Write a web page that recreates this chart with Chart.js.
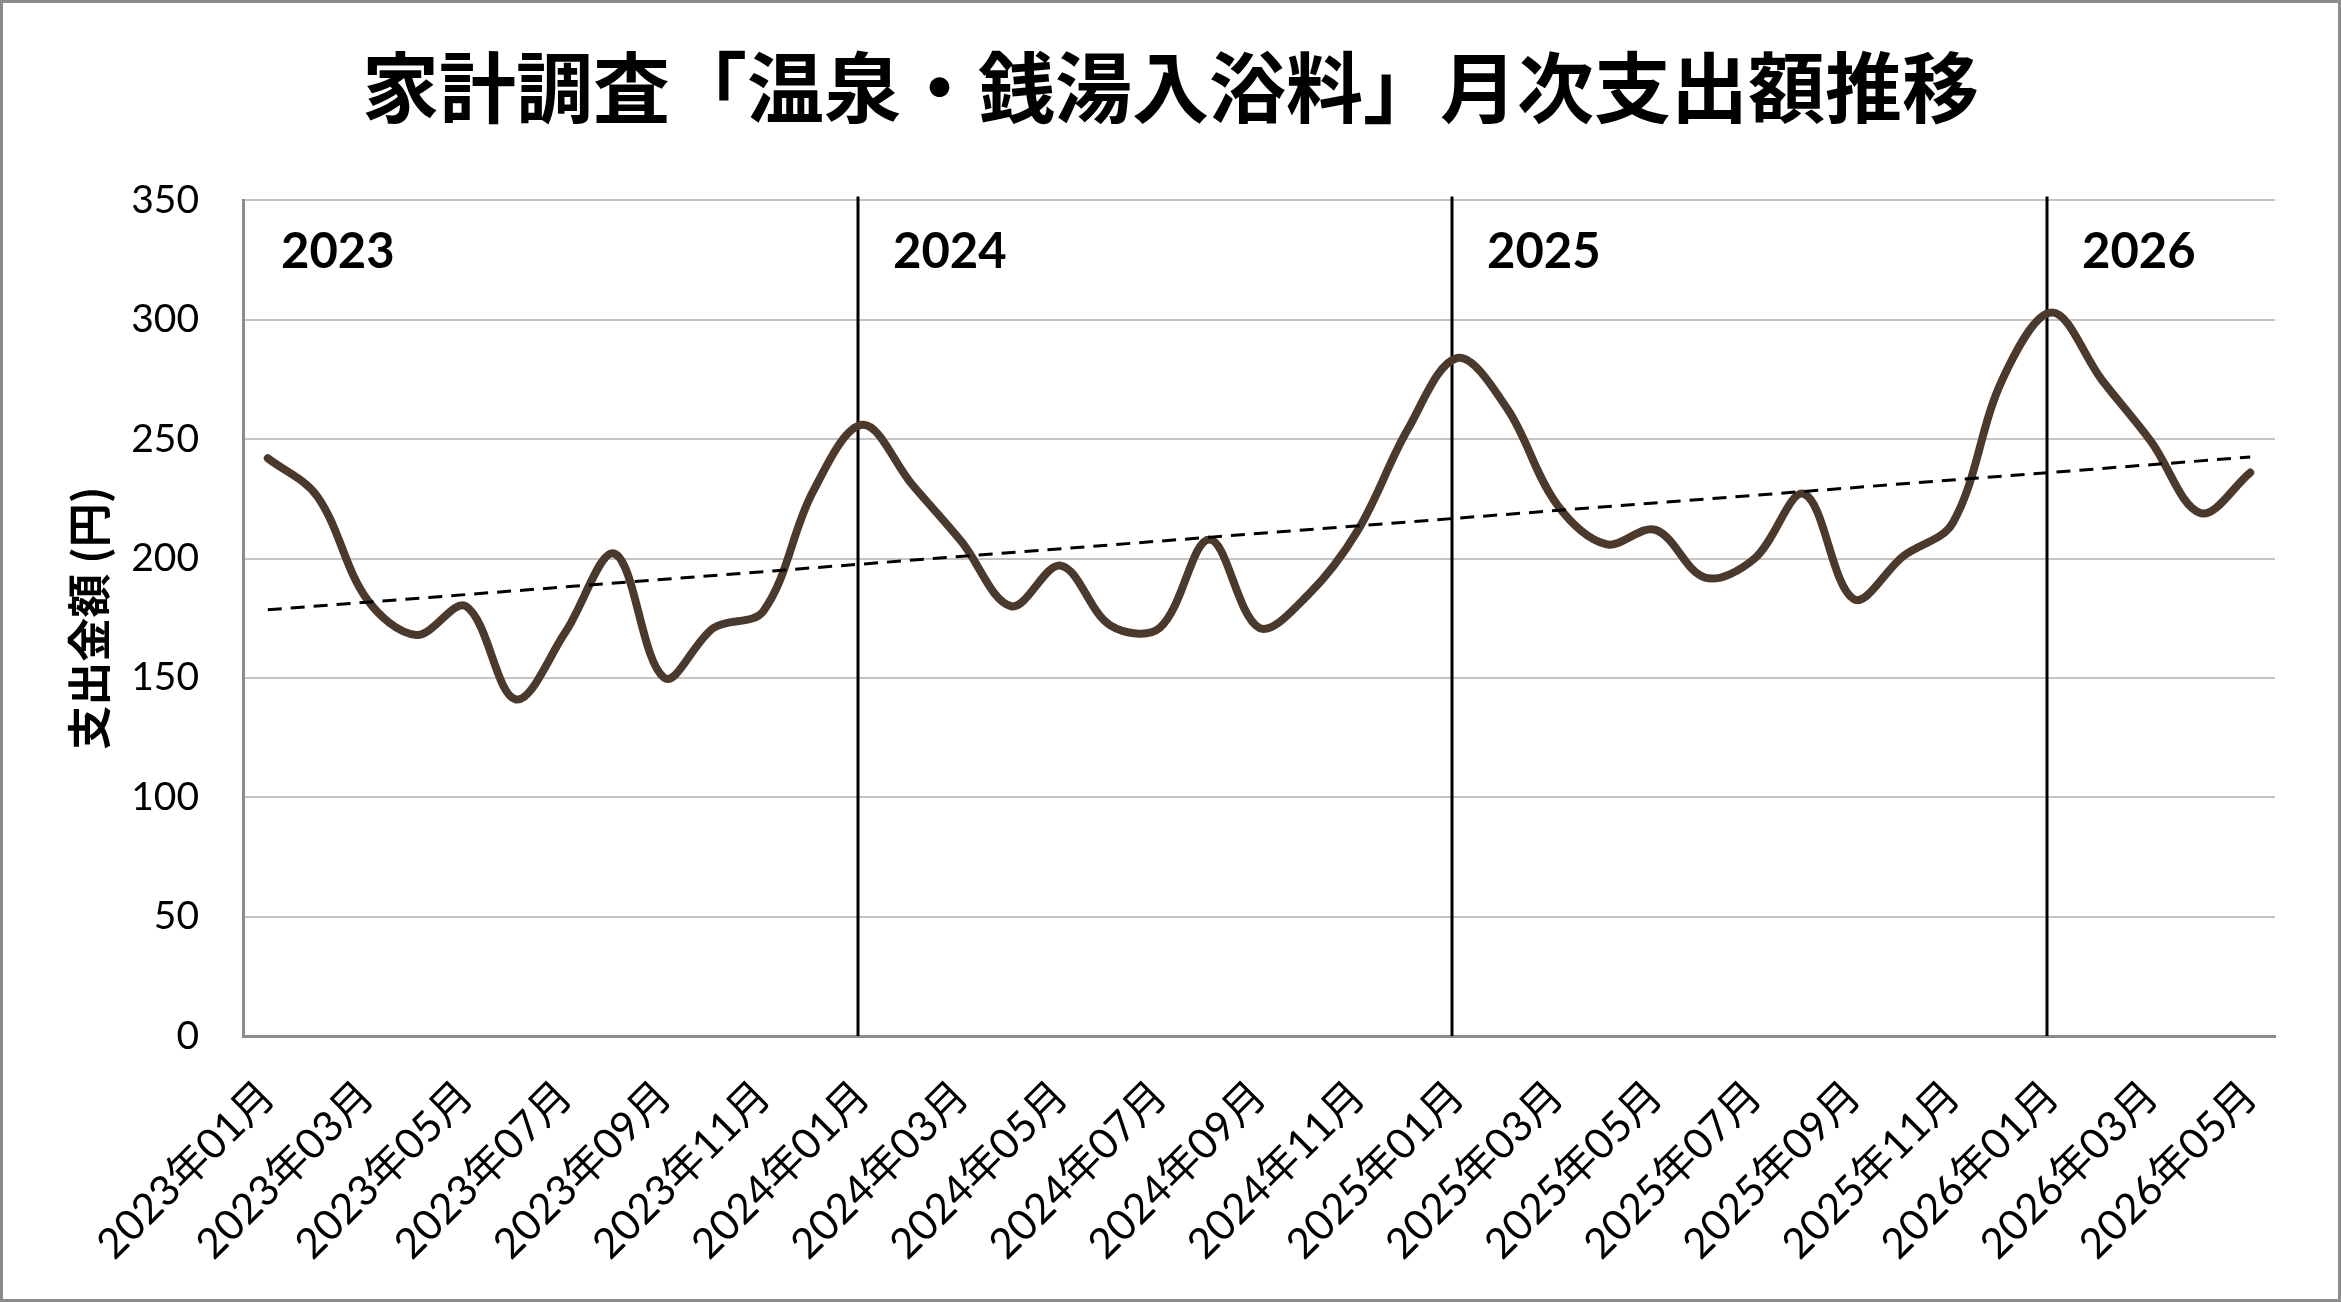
<!DOCTYPE html>
<html lang="ja">
<head>
<meta charset="UTF-8">
<title>家計調査「温泉・銭湯入浴料」月次支出額推移</title>
<script src="https://cdn.jsdelivr.net/npm/chart.js@4.4.1/dist/chart.umd.min.js"></script>
<style>
    html, body { margin: 0; padding: 0; background: #fff; }
    #chart-wrap { width: 2341px; height: 1302px; }
</style>
</head>
<body>
<div id="chart-wrap"><canvas id="bath-chart" width="2341" height="1302"></canvas></div>
<script>
// Monthly categories (2023/01 - 2026/05)
const months = [
    '2023年01月', '2023年02月', '2023年03月', '2023年04月', '2023年05月', '2023年06月',
    '2023年07月', '2023年08月', '2023年09月', '2023年10月', '2023年11月', '2023年12月',
    '2024年01月', '2024年02月', '2024年03月', '2024年04月', '2024年05月', '2024年06月',
    '2024年07月', '2024年08月', '2024年09月', '2024年10月', '2024年11月', '2024年12月',
    '2025年01月', '2025年02月', '2025年03月', '2025年04月', '2025年05月', '2025年06月',
    '2025年07月', '2025年08月', '2025年09月', '2025年10月', '2025年11月', '2025年12月',
    '2026年01月', '2026年02月', '2026年03月', '2026年04月', '2026年05月'
];

// Spending per month (yen)
const spending = [
    242, 226, 183, 168, 180, 141, 169, 202, 150, 171, 178, 228,
    256, 231, 207, 180, 197, 172, 171, 208, 171, 185, 212, 254,
    284, 263, 223, 206, 212, 192, 200, 227, 183, 201, 215, 275,
    303, 275, 249, 219, 236
];

// Linear trend line: value at first and last month
const trendEnds = [178.5, 242.5];

// Y axis range and step
const yRange = [0, 350];
const yStep = 50;

const LINE_COLOR = '#4b3a2b';
const TICK_FONT = 'Lato, "Noto Sans CJK JP", sans-serif';
const CJK_FONT = '"Noto Sans CJK JP", sans-serif';

/**
 * Trend series: only the two ends, joined straight across the gaps
 */
function buildTrend() {
    const last = months.length - 1;
    return months.map((m, i) => (i === 0 ? trendEnds[0] : (i === last ? trendEnds[1] : null)));
}

/**
 * Indices where a new year starts (first month of data counts too)
 */
function yearStarts() {
    return months
        .map((m, i) => ({ index: i, year: m.slice(0, 4), month: m.slice(5, 7) }))
        .filter(item => item.index === 0 || item.month === '01');
}

// White page and grey outer frame
const framePlugin = {
    id: 'frame',
    beforeDraw(chart) {
        const ctx = chart.ctx;
        ctx.save();
        ctx.fillStyle = '#ffffff';
        ctx.fillRect(0, 0, chart.width, chart.height);
        ctx.restore();
    },
    afterDraw(chart) {
        const ctx = chart.ctx;
        ctx.save();
        ctx.strokeStyle = '#8c8c8c';
        ctx.lineWidth = 3;
        ctx.strokeRect(1.5, 1.5, chart.width - 3, chart.height - 3);
        ctx.restore();
    }
};

// Year separators and year captions
const yearPlugin = {
    id: 'years',
    beforeDatasetsDraw(chart) {
        const { ctx, chartArea, scales } = chart;
        ctx.save();
        ctx.strokeStyle = '#000000';
        ctx.lineWidth = 3;
        ctx.fillStyle = '#000000';
        ctx.font = 'bold 49px Lato, sans-serif';
        ctx.textAlign = 'left';
        ctx.textBaseline = 'alphabetic';
        yearStarts().forEach(item => {
            let textX;
            if (item.index === 0) {
                textX = chartArea.left + 38;
            } else {
                const x = Math.round(scales.x.getPixelForValue(item.index)) - 5;
                ctx.beginPath();
                ctx.moveTo(x, chartArea.top - 4);
                ctx.lineTo(x, chartArea.bottom);
                ctx.stroke();
                textX = x + 35;
            }
            ctx.fillText(item.year, textX, chartArea.top + 68);
        });
        ctx.restore();
    }
};

const chart = new Chart(document.getElementById('bath-chart'), {
    type: 'line',
    data: {
        labels: months,
        datasets: [{
            label: '支出金額',
            data: spending,
            borderColor: LINE_COLOR,
            borderWidth: 8,
            borderCapStyle: 'round',
            borderJoinStyle: 'round',
            tension: 0.35,
            pointRadius: 0,
            fill: false,
            order: 1
        }, {
            label: '線形 (支出金額)',
            data: buildTrend(),
            borderColor: '#000000',
            borderWidth: 3,
            borderDash: [14, 9],
            spanGaps: true,
            tension: 0,
            pointRadius: 0,
            fill: false,
            order: 0
        }]
    },
    options: {
        responsive: false,
        animation: false,
        devicePixelRatio: 1,
        layout: {
            padding: { top: 0, left: 66, right: 66, bottom: 0 }
        },
        scales: {
            x: {
                offset: true,
                grid: { display: false },
                border: { display: true, color: '#8c8c8c', width: 3 },
                ticks: {
                    autoSkip: false,
                    minRotation: 45,
                    maxRotation: 45,
                    padding: 36,
                    color: '#000000',
                    font: { family: TICK_FONT, size: 42, lineHeight: 0.6 },
                    callback: function(value, index) {
                        return index % 2 === 0 ? this.getLabelForValue(value) : '';
                    }
                },
                afterFit: function(scale) {
                    scale.height = 266;
                }
            },
            y: {
                min: yRange[0],
                max: yRange[1],
                grid: { color: '#c4c4c4', lineWidth: 2, drawTicks: false },
                border: { display: true, color: '#8c8c8c', width: 3 },
                ticks: {
                    stepSize: yStep,
                    padding: 44,
                    color: '#000000',
                    font: { family: TICK_FONT, size: 39 }
                },
                title: {
                    display: true,
                    text: '支出金額 (円)',
                    color: '#000000',
                    padding: { top: 1, bottom: 0 },
                    font: { family: CJK_FONT, size: 44, weight: 'bold', lineHeight: 1 }
                },
                afterFit: function(scale) {
                    scale.width = 177;
                }
            }
        },
        plugins: {
            legend: { display: false },
            tooltip: { enabled: false },
            title: {
                display: true,
                text: '家計調査「温泉・銭湯入浴料」月次支出額推移',
                color: '#000000',
                padding: { top: 42, bottom: 66 },
                font: { family: CJK_FONT, size: 77, weight: 'bold', lineHeight: 1.2 }
            }
        }
    },
    plugins: [framePlugin, yearPlugin]
});
</script>
</body>
</html>
